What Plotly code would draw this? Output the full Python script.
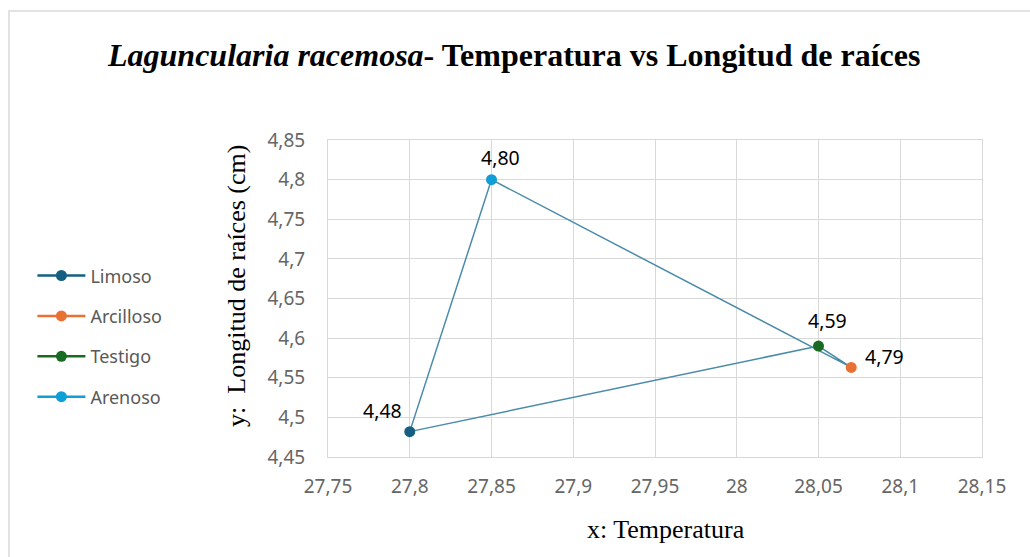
import plotly.graph_objects as go

# Sample series: one point per soil treatment
series_names = ["Limoso", "Arcilloso", "Testigo", "Arenoso"]
temperatura = [27.80, 28.07, 28.05, 27.85]
longitud = [4.482, 4.563, 4.590, 4.800]
point_labels = ["4,48", "4,79", "4,59", "4,80"]
marker_colors = ["#156082", "#E97132", "#196B24", "#0F9ED5"]
# pixel offsets of each value label from its marker
label_dx = [-27, 33, 9, 9]
label_dy = [21, 11, 26, 22]

# Connecting path drawn through the points (by series index)
path_order = [0, 3, 1, 2, 0]

x_ticks = [27.75, 27.80, 27.85, 27.90, 27.95, 28.00, 28.05, 28.10, 28.15]
x_tick_text = ["27,75", "27,8", "27,85", "27,9", "27,95", "28", "28,05", "28,1", "28,15"]
y_ticks = [4.45, 4.50, 4.55, 4.60, 4.65, 4.70, 4.75, 4.80, 4.85]
y_tick_text = ["4,45", "4,5", "4,55", "4,6", "4,65", "4,7", "4,75", "4,8", "4,85"]

line_color = "#4A8BAA"
sans = "Noto Sans"
serif = "Liberation Serif, Times New Roman, serif"

fig = go.Figure()

fig.add_trace(go.Scatter(
    x=[temperatura[i] for i in path_order],
    y=[longitud[i] for i in path_order],
    mode="lines",
    line=dict(color=line_color, width=1.5),
    showlegend=False,
    hoverinfo="skip",
))

for i, name in enumerate(series_names):
    fig.add_trace(go.Scatter(
        x=[temperatura[i]],
        y=[longitud[i]],
        mode="lines+markers",
        name=name,
        legendgroup=name,
        marker=dict(color=marker_colors[i], size=11),
        line=dict(color=marker_colors[i], width=2.5),
        cliponaxis=False,
    ))

annotations = []
for i, lab in enumerate(point_labels):
    annotations.append(dict(
        x=temperatura[i], y=longitud[i], xref="x", yref="y",
        text=lab, showarrow=False,
        xshift=label_dx[i], yshift=label_dy[i],
        font=dict(family=sans, size=19.5, color="#000000"),
    ))

grid = "#D9D9D9"
fig.update_xaxes(
    range=[27.75, 28.15], tickvals=x_ticks, ticktext=x_tick_text,
    showgrid=True, gridcolor=grid, gridwidth=1,
    showline=True, linecolor=grid, linewidth=1, mirror=True,
    zeroline=False, ticks="", ticklabelstandoff=12,
    tickfont=dict(family=sans, size=19, color="#666666"),
)
fig.update_yaxes(
    range=[4.45, 4.85], tickvals=y_ticks, ticktext=y_tick_text,
    showgrid=True, gridcolor=grid, gridwidth=1,
    showline=True, linecolor=grid, linewidth=1, mirror=True,
    zeroline=False, ticks="", ticklabelstandoff=18,
    tickfont=dict(family=sans, size=19, color="#666666"),
)

annotations += [
    dict(
        text="<b><i>Laguncularia racemosa</i>- Temperatura vs Longitud de raíces</b>",
        xref="paper", yref="paper", x=0.283, y=1.268,
        xanchor="center", yanchor="middle", showarrow=False,
        font=dict(family=serif, size=32, color="#000000"),
    ),
    dict(
        text="y:  Longitud de raíces (cm)",
        xref="paper", yref="paper", x=-0.139, y=0.54,
        xanchor="center", yanchor="middle", textangle=-90, showarrow=False,
        font=dict(family=serif, size=26, color="#000000"),
    ),
    dict(
        text="x: Temperatura",
        xref="paper", yref="paper", x=0.517, y=-0.23,
        xanchor="center", yanchor="middle", showarrow=False,
        font=dict(family=serif, size=26, color="#000000"),
    ),
]

fig.update_layout(
    width=1030, height=557,
    margin=dict(l=328, r=48, t=140, b=100),
    paper_bgcolor="#FFFFFF", plot_bgcolor="#FFFFFF",
    showlegend=True,
    legend=dict(
        x=-0.452, y=0.63, xanchor="left", yanchor="top",
        font=dict(family=sans, size=18, color="#595959"),
        tracegroupgap=14, itemwidth=48, bgcolor="rgba(0,0,0,0)",
    ),
    shapes=[dict(
        type="rect", xref="paper", yref="paper",
        x0=-0.4878, x1=1.2, y0=-0.5, y1=1.407,
        line=dict(color="#D9D9D9", width=1.5), layer="below",
    )],
    annotations=annotations,
)

fig.write_html("out.html")
